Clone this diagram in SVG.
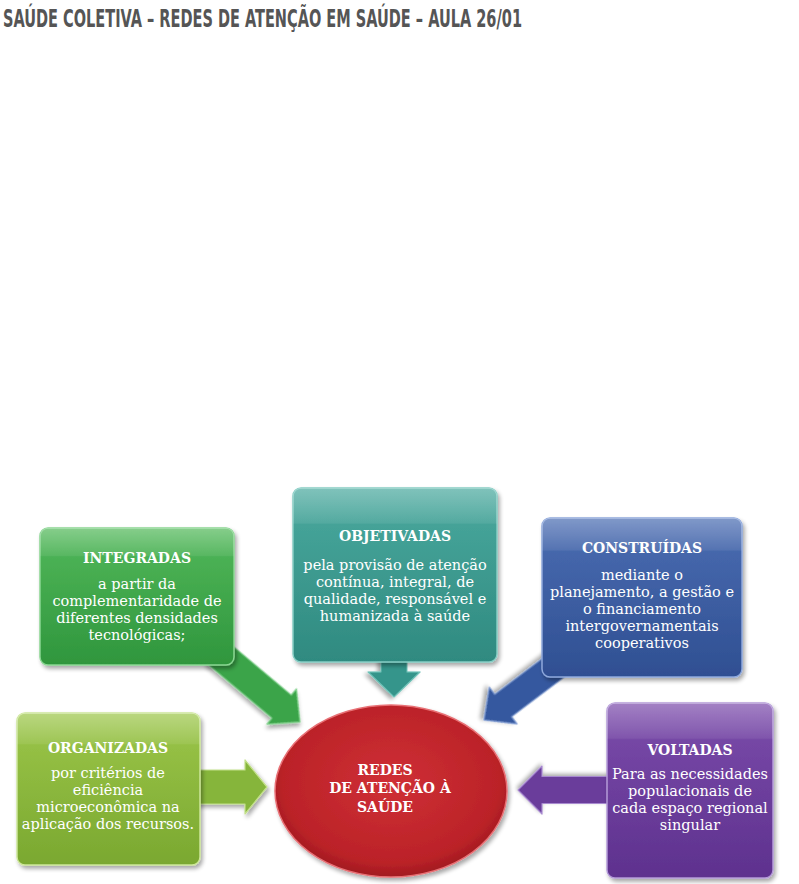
<svg xmlns="http://www.w3.org/2000/svg" width="799" height="884" viewBox="0 0 799 884">
  <style>
    .title { font-family: "Liberation Sans Narrow", "DejaVu Sans Condensed", "Liberation Sans", sans-serif; font-weight: bold; font-size: 24px; fill: #555555; }
    .hd { font-family: "DejaVu Serif", "Liberation Serif", serif; font-weight: bold; font-size: 14px; fill: #ffffff; text-anchor: middle; }
    .bd { font-family: "DejaVu Serif", "Liberation Serif", serif; font-size: 14.5px; fill: #ffffff; text-anchor: middle; }
    .box { stroke-width: 1.5; filter: url(#sh); }
    .gloss { fill: url(#glossG); }
    .arrow { stroke-width: 1.2; stroke-linejoin: round; filter: url(#sh); }
  </style>
  <defs>
    <filter id="sh" x="-10%" y="-10%" width="125%" height="125%">
      <feGaussianBlur in="SourceAlpha" stdDeviation="2"/>
      <feOffset dx="1.5" dy="2.5" result="b"/>
      <feComponentTransfer><feFuncA type="linear" slope="0.35"/></feComponentTransfer>
      <feMerge><feMergeNode/><feMergeNode in="SourceGraphic"/></feMerge>
    </filter>
    <linearGradient id="glossG" x1="0" y1="0" x2="0" y2="1">
      <stop offset="0" stop-color="#ffffff" stop-opacity="0.30"/>
      <stop offset="0.2" stop-color="#ffffff" stop-opacity="0.08"/>
      <stop offset="0.21" stop-color="#ffffff" stop-opacity="0"/>
      <stop offset="1" stop-color="#ffffff" stop-opacity="0"/>
    </linearGradient>
    <linearGradient id="gGreen" x1="0" y1="0" x2="0" y2="1">
      <stop offset="0" stop-color="#52b85a"/><stop offset="1" stop-color="#2f963d"/>
    </linearGradient>
    <linearGradient id="gTeal" x1="0" y1="0" x2="0" y2="1">
      <stop offset="0" stop-color="#4aa99e"/><stop offset="1" stop-color="#2f8a80"/>
    </linearGradient>
    <linearGradient id="gBlue" x1="0" y1="0" x2="0" y2="1">
      <stop offset="0" stop-color="#4b6db2"/><stop offset="1" stop-color="#2f4f92"/>
    </linearGradient>
    <linearGradient id="gLime" x1="0" y1="0" x2="0" y2="1">
      <stop offset="0" stop-color="#9cc64a"/><stop offset="1" stop-color="#7aa830"/>
    </linearGradient>
    <linearGradient id="gPurple" x1="0" y1="0" x2="0" y2="1">
      <stop offset="0" stop-color="#7b4cab"/><stop offset="1" stop-color="#5e318e"/>
    </linearGradient>
    <radialGradient id="gRed" cx="0.5" cy="0.45" r="0.55">
      <stop offset="0" stop-color="#cf3035"/><stop offset="0.85" stop-color="#bb2228"/><stop offset="1" stop-color="#a11a20"/>
    </radialGradient>
  </defs>

  <text class="title" x="3" y="27" textLength="519" lengthAdjust="spacingAndGlyphs">SAÚDE COLETIVA – REDES DE ATENÇÃO EM SAÚDE – AULA 26/01</text>

  <g id="connectors">
    <polygon class="arrow" fill="#3aa448" stroke="#7fd08a" transform="translate(300,722) rotate(40)" points="0,0 -24,-23 -24,-15 -110,-15 -110,15 -24,15 -24,23"/>
    <polygon class="arrow" fill="#36958b" stroke="#6fc2b8" transform="translate(394,697) rotate(90)" points="0,0 -25,-26 -25,-13 -40,-13 -40,13 -25,13 -25,26"/>
    <polygon class="arrow" fill="#36599f" stroke="#7b98d0" transform="translate(484,720) rotate(143)" points="0,0 -24,-23 -24,-14 -110,-14 -110,14 -24,14 -24,23"/>
    <polygon class="arrow" fill="#86b53a" stroke="#c2e08a" transform="translate(267,787)" points="0,0 -22,-27 -22,-17 -75,-17 -75,17 -22,17 -22,27"/>
    <polygon class="arrow" fill="#6a3c9b" stroke="#a88ad0" transform="translate(518,790) rotate(180)" points="0,0 -24,-24 -24,-13.5 -95,-13.5 -95,13.5 -24,13.5 -24,24"/>
  </g>

  <g id="integradas">
    <rect class="box" x="40" y="528" width="194" height="137" rx="8" fill="url(#gGreen)" stroke="#8ad692"/>
    <rect class="gloss" x="40" y="528" width="194" height="137" rx="8"/>
    <text class="hd" x="137" y="563">INTEGRADAS</text>
    <text class="bd" x="137" y="589">a partir da</text>
    <text class="bd" x="137" y="606">complementaridade de</text>
    <text class="bd" x="137" y="623">diferentes densidades</text>
    <text class="bd" x="137" y="640">tecnológicas;</text>
  </g>

  <g id="objetivadas">
    <rect class="box" x="293" y="488" width="204" height="174" rx="8" fill="url(#gTeal)" stroke="#86cdc4"/>
    <rect class="gloss" x="293" y="488" width="204" height="174" rx="8"/>
    <text class="hd" x="395" y="541">OBJETIVADAS</text>
    <text class="bd" x="395" y="570">pela provisão de atenção</text>
    <text class="bd" x="395" y="587">contínua, integral, de</text>
    <text class="bd" x="395" y="604">qualidade, responsável e</text>
    <text class="bd" x="395" y="621">humanizada à saúde</text>
  </g>

  <g id="construidas">
    <rect class="box" x="542" y="518" width="200" height="159" rx="8" fill="url(#gBlue)" stroke="#8ea8dc"/>
    <rect class="gloss" x="542" y="518" width="200" height="159" rx="8"/>
    <text class="hd" x="642" y="553">CONSTRUÍDAS</text>
    <text class="bd" x="642" y="580">mediante o</text>
    <text class="bd" x="642" y="597">planejamento, a gestão e</text>
    <text class="bd" x="642" y="614">o financiamento</text>
    <text class="bd" x="642" y="631">intergovernamentais</text>
    <text class="bd" x="642" y="648">cooperativos</text>
  </g>

  <g id="organizadas">
    <rect class="box" x="17" y="713" width="183" height="152" rx="8" fill="url(#gLime)" stroke="#cde69a"/>
    <rect class="gloss" x="17" y="713" width="183" height="152" rx="8"/>
    <text class="hd" x="108" y="753">ORGANIZADAS</text>
    <text class="bd" x="108" y="778">por critérios de</text>
    <text class="bd" x="108" y="795">eficiência</text>
    <text class="bd" x="108" y="812">microeconômica na</text>
    <text class="bd" x="108" y="829">aplicação dos recursos.</text>
  </g>

  <g id="voltadas">
    <rect class="box" x="607" y="703" width="166" height="175" rx="8" fill="url(#gPurple)" stroke="#b49ad8"/>
    <rect class="gloss" x="607" y="703" width="166" height="175" rx="8"/>
    <text class="hd" x="690" y="755">VOLTADAS</text>
    <text class="bd" x="690" y="779">Para as necessidades</text>
    <text class="bd" x="690" y="796">populacionais de</text>
    <text class="bd" x="690" y="813">cada espaço regional</text>
    <text class="bd" x="690" y="830">singular</text>
  </g>

  <g id="redes">
    <ellipse class="box" cx="391" cy="791" rx="116" ry="86" fill="url(#gRed)" stroke="#e87075" stroke-width="2"/>
    <text class="hd" x="385" y="775">REDES</text>
    <text class="hd" x="390" y="793">DE ATENÇÃO À</text>
    <text class="hd" x="385" y="812">SAÚDE</text>
  </g>
</svg>
